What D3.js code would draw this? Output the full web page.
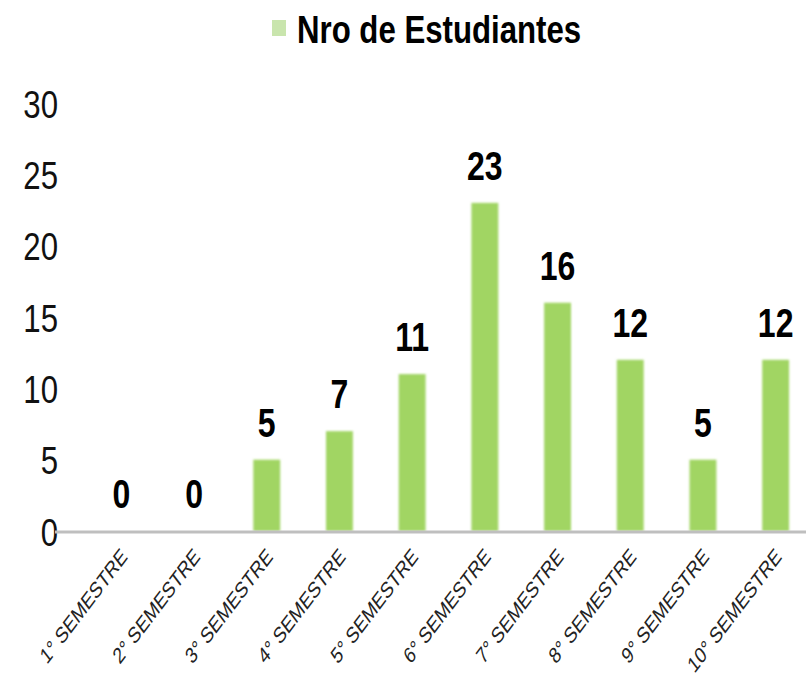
<!DOCTYPE html>
<html>
<head>
<meta charset="utf-8">
<script src="https://cdn.jsdelivr.net/npm/d3@7"></script>
<style>
  body { margin: 0; background: #fff; }
  svg { display: block; }
</style>
</head>
<body>
<svg></svg>
<script>
let semesters = ['1° SEMESTRE', '2° SEMESTRE', '3° SEMESTRE', '4° SEMESTRE', '5° SEMESTRE',
                 '6° SEMESTRE', '7° SEMESTRE', '8° SEMESTRE', '9° SEMESTRE', '10° SEMESTRE']
let students = [0, 0, 5, 7, 11, 23, 16, 12, 5, 12]
let yTicks = [0, 5, 10, 15, 20, 25, 30]
let seriesName = 'Nro de Estudiantes'

let width = 806
let height = 685
let font = "'Liberation Sans', Arial, sans-serif"
// the original picture is squeezed sideways, so text gets a horizontal squeeze too
let squeeze = 0.8

let svg = d3.select('svg')
    .attr('width', width)
    .attr('height', height)

let xScale = d3.scaleBand()
    .domain(semesters)
    .range([85, 812])
    .paddingInner(0.63)
    .paddingOuter(0.315)

let yScale = d3.scaleLinear()
    .domain([0, 30])
    .range([531, 103])

let defs = svg.append('defs')
defs.append('filter')
    .attr('id', 'soft')
    .append('feGaussianBlur')
    .attr('stdDeviation', 0.9)

// legend / title
let legend = svg.append('g')
legend.append('rect')
    .attr('x', 272)
    .attr('y', 20)
    .attr('width', 14)
    .attr('height', 16)
    .attr('fill', '#c9e5ad')
legend.append('text')
    .attr('transform', 'translate(297, 43) scale(' + squeeze + ', 1)')
    .attr('font-family', font)
    .attr('font-weight', 'bold')
    .attr('font-size', 39)
    .attr('fill', '#000')
    .text(seriesName)

// bars
svg.selectAll('.bar')
   .data(students)
   .enter()
   .append('rect')
   .attr('class', 'bar')
   .attr('x', (d, i) => xScale(semesters[i]))
   .attr('y', (d) => yScale(d))
   .attr('width', xScale.bandwidth())
   .attr('height', (d) => yScale(0) - yScale(d))
   .attr('fill', '#a1d564')
   .attr('filter', 'url(#soft)')

// value labels
svg.selectAll('.val')
   .data(students)
   .enter()
   .append('text')
   .attr('class', 'val')
   .attr('transform', (d, i) => {
    let cx = xScale(semesters[i]) + xScale.bandwidth() / 2
    return 'translate(' + cx + ',' + (yScale(d) - 23) + ') scale(' + squeeze + ', 1)'
   })
   .attr('text-anchor', 'middle')
   .attr('font-family', font)
   .attr('font-weight', 'bold')
   .attr('font-size', 40)
   .attr('fill', '#000')
   .text((d) => d)

// y axis
let yAxis = d3.axisLeft(yScale)
    .tickValues(yTicks)
    .tickSize(0)
    .tickPadding(0)

let yG = svg.append('g')
    .attr('transform', 'translate(58, 0)')
    .call(yAxis)
yG.select('.domain').remove()
yG.selectAll('text')
  .attr('font-family', font)
  .attr('font-size', 39)
  .attr('fill', '#111')
  .attr('dy', '0.36em')
  .attr('transform', 'scale(' + squeeze + ', 1)')

// x axis
let xAxis = d3.axisBottom(xScale)
    .tickSize(0)
    .tickPadding(0)

let xG = svg.append('g')
    .attr('transform', 'translate(0, 531)')
    .call(xAxis)
xG.select('.domain').remove()
xG.selectAll('text')
  .attr('font-family', font)
  .attr('font-size', 22.5)
  .attr('fill', '#222')
  .attr('text-anchor', 'end')
  .attr('y', 0)
  .attr('dy', 0)
  .attr('transform', 'translate(7, 27) scale(0.76, 1) rotate(-45)')

svg.append('line')
   .attr('x1', 55)
   .attr('x2', width)
   .attr('y1', 532)
   .attr('y2', 532)
   .attr('stroke', '#bfbfbf')
   .attr('stroke-width', 3)
</script>
</body>
</html>
